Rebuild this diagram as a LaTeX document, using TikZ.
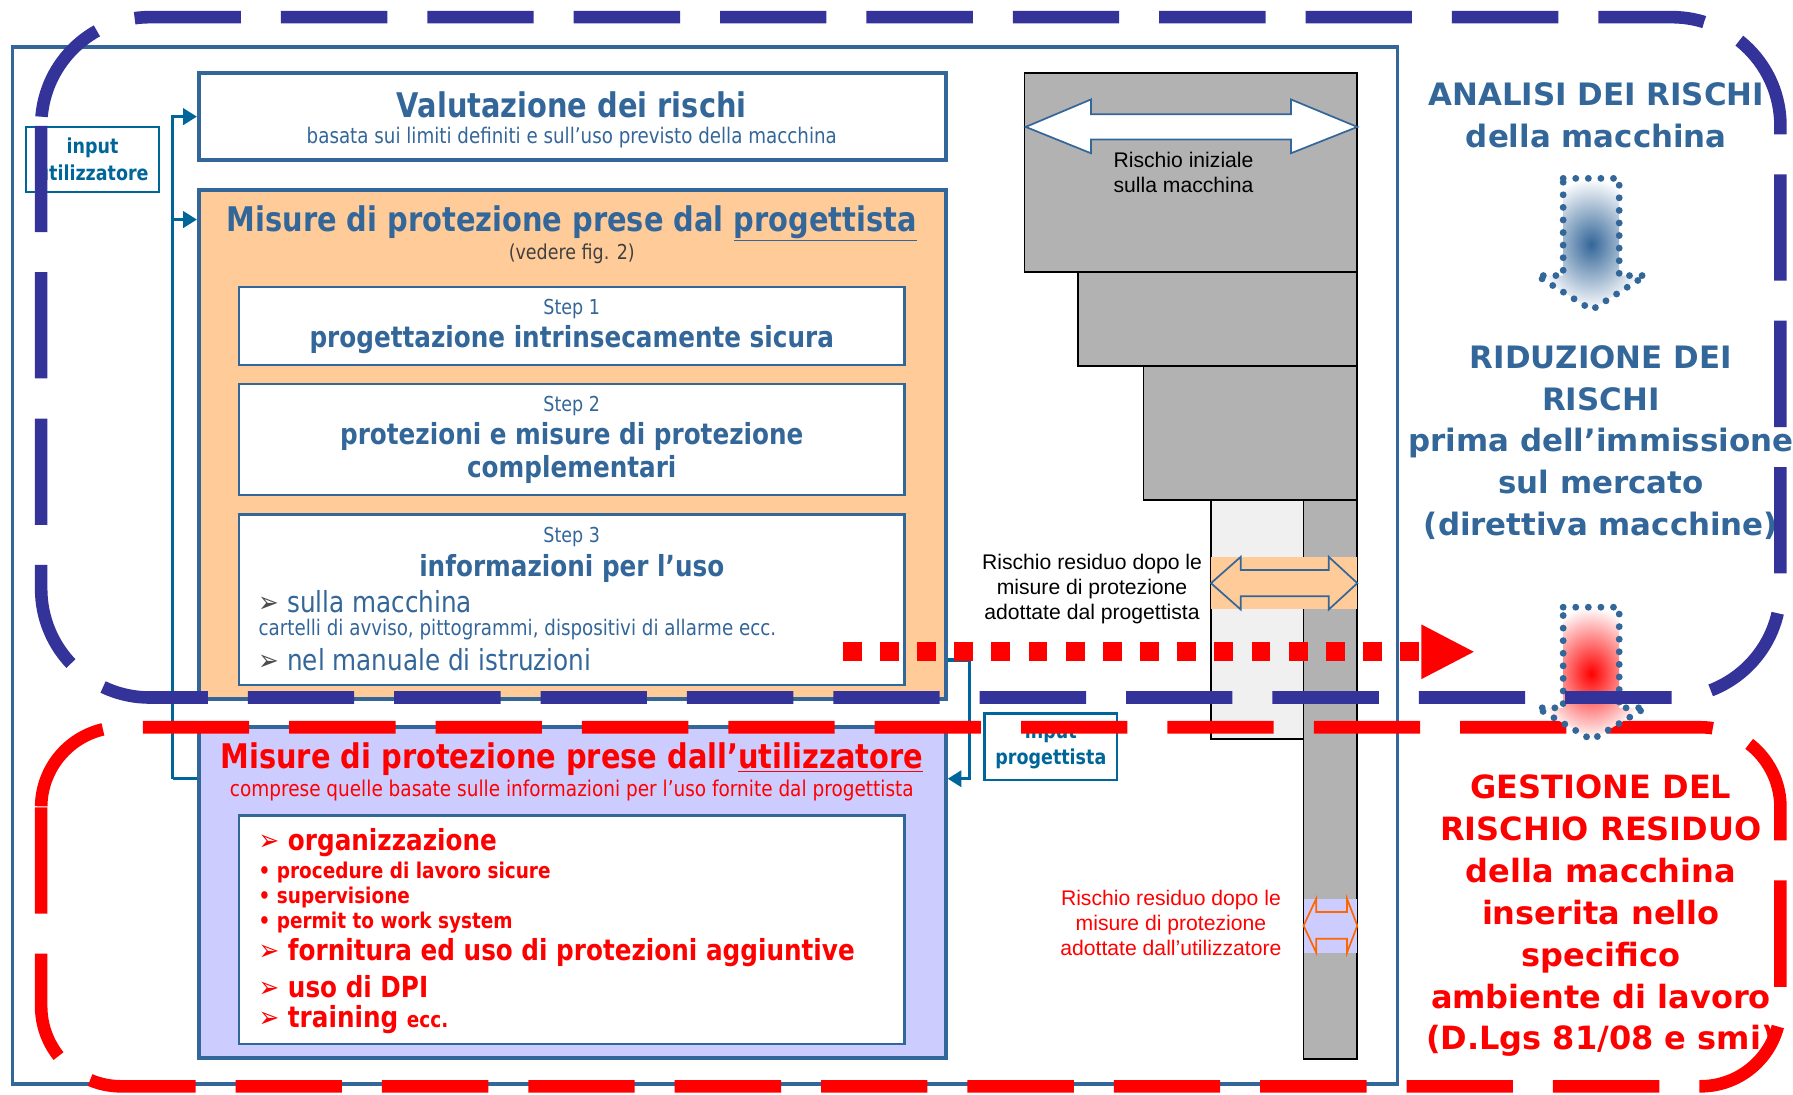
\documentclass[tikz,border=0pt]{standalone}
\usepackage{fontspec}
\setmainfont{DejaVu Sans}
\newfontfamily\narrowfont[FakeStretch=0.85]{DejaVu Sans}
\newfontfamily\arialfont{Liberation Sans}
\usetikzlibrary{arrows.meta}
\definecolor{boxblue}{HTML}{336699}
\definecolor{dashblue}{HTML}{333399}
\definecolor{linkteal}{HTML}{006699}
\definecolor{peach}{HTML}{FFCC99}
\definecolor{lilac}{HTML}{CCCCFF}
\definecolor{stairgray}{HTML}{B2B2B2}
\definecolor{arroworange}{HTML}{FF6600}
\newcommand\setfs[2]{\fontsize{#1}{#2}\selectfont}

\begin{document}
\begin{tikzpicture}[x=1pt, y=-1pt,
  panel/.style={draw=boxblue, line width=3.5pt, minimum width=653pt, inner sep=0pt},
  stepbox/.style={draw=boxblue, line width=2.2pt, fill=white, minimum width=582pt, inner sep=0pt},
  inbox/.style={draw=linkteal, line width=2pt, fill=white, minimum width=116pt, inner sep=0pt},
  head/.style={inner sep=0pt, text=boxblue, font={\narrowfont\bfseries\setfs{#1}{#1}}},
  plain/.style={inner sep=0pt, text=boxblue, font={\narrowfont\setfs{#1}{#1}}},
  risklabel/.style={inner sep=0pt, align=center, font={\arialfont\setfs{18.5}{22}}},
  sidetext/.style={inner sep=0pt, align=center, font={\bfseries\setfs{#1}{36.6}}},
  link/.style={draw=linkteal, line width=3pt, -{Triangle[length=12pt, width=14pt]}},
  wire/.style={draw=linkteal, line width=3pt},
  stair/.style={draw=black, line width=1.5pt, fill=stairgray},
  bigdash/.style={line width=11pt, dash pattern=on 93pt off 35pt, rounded corners=#1},
  dots/.style={line width=6pt, line cap=round, dash pattern=on 0pt off 11pt}]
  \useasboundingbox (0,0) rectangle (1568,957);
  \fill[white] (0,0) rectangle (1568,957);
  \draw[boxblue, line width=3pt] (11,41) rectangle (1222,948);

  % boxes on the left
  \node[panel, fill=white, minimum height=76pt] (valbox) at (500.5,102) {};
  \node[panel, fill=peach, minimum height=445pt] (progbox) at (500.5,388.5) {};
  \node[stepbox, minimum height=68pt] (step1) at (500,285) {};
  \node[stepbox, minimum height=97pt] (step2) at (500,384.5) {};
  \node[stepbox, minimum height=149pt] (step3) at (500,524.5) {};
  \node[panel, fill=lilac, minimum height=289pt] (userbox) at (500.5,780.5) {};
  \node[stepbox, minimum height=200pt] (userlist) at (500,813) {};
  \node[inbox, minimum height=57pt] (inuser) at (81,139.5) {};
  \node[inbox, minimum height=58pt] (inprog) at (919,653) {};

  \node[head=29.7] (valtitle) at (500,92) {Valutazione dei rischi};
  \node[plain=18.8] (valsub) at (500,120) {basata sui limiti definiti e sull’uso previsto della macchina};
  \node[head=29.7] (progtitle) at (500,195) {Misure di protezione prese dal \underline{progettista}};
  \node[plain=18, text=black!75] (progref) at (500,222) {(vedere fig. 2)};
  \node[plain=18] (s1a) at (500,270) {Step 1};
  \node[head=25.4] (s1b) at (500,297) {progettazione intrinsecamente sicura};
  \node[plain=18] (s2a) at (500,355) {Step 2};
  \node[head=25.4] (s2b) at (500,382) {protezioni e misure di protezione};
  \node[head=25.4] (s2c) at (500,411) {complementari};
  \node[plain=18] (s3a) at (500,470) {Step 3};
  \node[head=25.4] (s3b) at (500,497) {informazioni per l’uso};
  \node[plain=25.4, anchor=west] (s3c) at (226,526) {\textcolor{black!70}{➢} sulla macchina};
  \node[plain=18.8, anchor=west] (s3d) at (226,551) {cartelli di avviso, pittogrammi, dispositivi di allarme ecc.};
  \node[plain=25.4, anchor=west] (s3e) at (226,577) {\textcolor{black!70}{➢} nel manuale di istruzioni};

  \node[head=29.7, text=red] (usertitle) at (500,664) {Misure di protezione prese dall’\underline{utilizzatore}};
  \node[plain=19, text=red] (usersub) at (500,691) {comprese quelle basate sulle informazioni per l’uso fornite dal progettista};
  \node[head=25.4, text=red, anchor=west] (u1) at (226,737) {➢ organizzazione};
  \node[head=19, text=red, anchor=west] (u2) at (226,763) {• procedure di lavoro sicure};
  \node[head=19, text=red, anchor=west] (u3) at (226,785) {• supervisione};
  \node[head=19, text=red, anchor=west] (u4) at (226,807) {• permit to work system};
  \node[head=25.4, text=red, anchor=west] (u5) at (226,833) {➢ fornitura ed uso di protezioni aggiuntive};
  \node[head=25.4, text=red, anchor=west] (u6) at (226,863) {➢ uso di DPI};
  \node[head=25.4, text=red, anchor=west] (u7) at (226,892) {➢ training {\setfs{19}{19}ecc.}};

  \node[head=18, text=linkteal] (inuser1) at (81,129) {input};
  \node[head=18, text=linkteal] (inuser2) at (81,151) {utilizzatore};
  \node[head=18, text=linkteal] (inprog1) at (919,641) {input};
  \node[head=18, text=linkteal] (inprog2) at (919,664) {progettista};

  % input connectors
  \coordinate (lbus) at (151,681);
  \coordinate (ltap) at (151,192);
  \coordinate (rtap) at (848,577);
  \coordinate (rbus) at (848,681);
  \draw[link] (lbus) |- (valbox.west);
  \draw[link] (ltap) -- (ltap -| progbox.west);
  \draw[wire] (lbus) -- (lbus -| userbox.west);
  \draw[link] (rtap -| progbox.east) -- (rtap) -- (rbus) -- (rbus -| userbox.east);

  % risk staircase
  \draw[stair] (896,64) rectangle (1187,238);
  \draw[stair] (943,238) rectangle (1187,320);
  \draw[stair] (1000,320) rectangle (1187,437);
  \draw[stair, fill=black!6] (1059,437) rectangle (1140,646);
  \draw[stair] (1140,437) rectangle (1187,926);
  \draw[boxblue, fill=white, line width=1.5pt] (897,111) -- (954,87) -- (954,100) -- (1129,100) -- (1129,87) -- (1187,111)
    -- (1129,134) -- (1129,122) -- (954,122) -- (954,134) -- cycle;
  \fill[peach] (1059,487) rectangle (1187,533);
  \draw[boxblue, line width=1.5pt] (1059,510) -- (1085,487) -- (1085,498.5) -- (1162,498.5) -- (1162,487) -- (1187,510)
    -- (1162,533) -- (1162,521.5) -- (1085,521.5) -- (1085,533) -- cycle;
  \fill[lilac] (1140,786) rectangle (1187,833);
  \draw[arroworange, line width=1.5pt] (1140,809.5) -- (1151,786) -- (1151,797.5) -- (1178,797.5) -- (1178,786) -- (1187,809.5)
    -- (1178,833) -- (1178,821) -- (1151,821) -- (1151,833) -- cycle;
  \node[risklabel] (initlabel) at (1035,151) {Rischio iniziale\\sulla macchina};
  \node[risklabel] (proglabel) at (955,515) {Rischio residuo dopo le\\misure di protezione\\adottate dal progettista};
  \node[risklabel, text=red] (userlabel) at (1024,807) {Rischio residuo dopo le\\misure di protezione\\adottate dall’utilizzatore};

  % phases on the right
  \node[sidetext=27, text=boxblue] (analisi) at (1396,101) {ANALISI DEI RISCHI\\della macchina};
  \node[sidetext=27, text=boxblue] (riduzione) at (1400,387) {RIDUZIONE DEI\\RISCHI\\prima dell’immissione\\sul mercato\\(direttiva macchine)};
  \node[sidetext=28, text=red] (gestione) at (1400,801) {GESTIONE DEL\\RISCHIO RESIDUO\\della macchina\\inserita nello\\specifico\\ambiente di lavoro\\(D.Lgs 81/08 e smi)};

  \begin{scope}[shift={(0,156)}]
    \shade[inner color=boxblue, outer color=white] (1367,0) -- (1416,0) -- (1416,85) -- (1439,85) -- (1392,115) -- (1344,85) -- (1367,85) -- cycle;
    \draw[boxblue, dots] (1367,0) -- (1416,0) -- (1416,85) -- (1439,85) -- (1392,115) -- (1344,85) -- (1367,85) -- cycle;
  \end{scope}

  \draw[red, bigdash=70] (36,636) rectangle (1557,950);

  \begin{scope}[shift={(0,531)}]
    \shade[inner color=red, outer color=white] (1367,0) -- (1416,0) -- (1416,88) -- (1439,88) -- (1392,116) -- (1344,88) -- (1367,88) -- cycle;
    \draw[boxblue, dots] (1367,0) -- (1416,0) -- (1416,88) -- (1439,88) -- (1392,116) -- (1344,88) -- (1367,88) -- cycle;
  \end{scope}

  \draw[dashblue, bigdash=95] (36,15) rectangle (1557,610);

  % transfer of residual risk
  \coordinate (dotstart) at (737,570);
  \coordinate (dotend) at (1290,570);
  \draw[red, line width=16.5pt, dash pattern=on 16.5pt off 16pt, -{Triangle[length=47pt, width=44pt]}] (dotstart) -- (dotend);
\end{tikzpicture}
\end{document}
